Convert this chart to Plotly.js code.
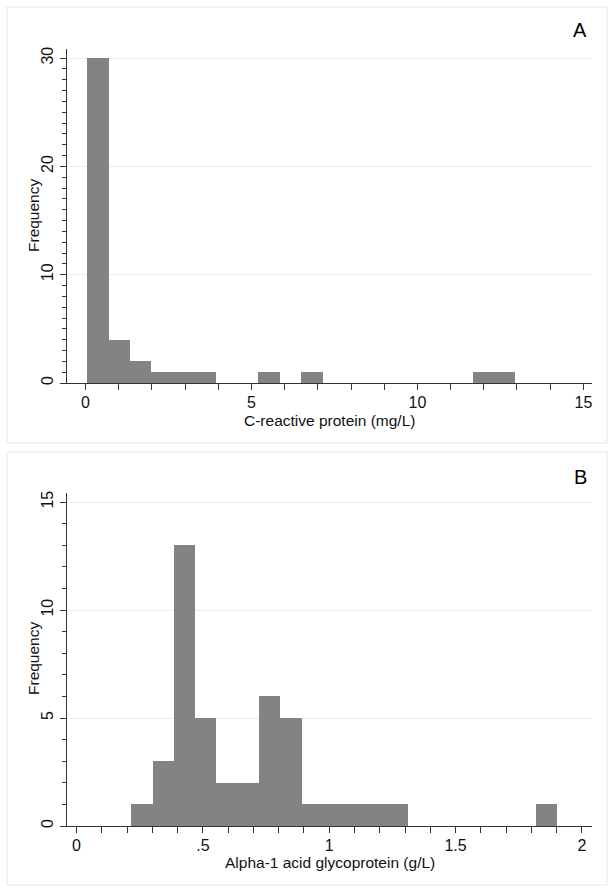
<!DOCTYPE html>
<html>
<head>
<meta charset="utf-8">
<script src="https://cdn.plot.ly/plotly-3.0.1.min.js"></script>
<style>html,body{margin:0;padding:0;background:#fff;}#chart{width:614px;height:893px;}</style>
</head>
<body>
<div id="chart"></div>
<script>
// Panel A: C-reactive protein histogram (20 bins)
const crpBinStart = 0.05;
const crpBinWidth = 0.645;
const crpCounts = [30, 4, 2, 1, 1, 1, 0, 0, 1, 0, 1, 0, 0, 0, 0, 0, 0, 0, 1, 1];
const crpTickVals = [0, 5, 10, 15];
const crpTickText = ["0", "5", "10", "15"];

// Panel B: Alpha-1 acid glycoprotein histogram (20 bins)
const agpBinStart = 0.217;
const agpBinWidth = 0.0842;
const agpCounts = [1, 3, 13, 5, 2, 2, 6, 5, 1, 1, 1, 1, 1, 0, 0, 0, 0, 0, 0, 1];
const agpTickVals = [0, 0.5, 1, 1.5, 2];
const agpTickText = ["0", ".5", "1", "1.5", "2"];

const W = 614, H = 893;
function centers(start, w, counts) { return counts.map((c, i) => start + (i + 0.5) * w); }

const barColor = '#838383';
const traces = [
  {type: 'bar', x: centers(crpBinStart, crpBinWidth, crpCounts), y: crpCounts, width: crpBinWidth,
   marker: {color: barColor, line: {width: 0}}, xaxis: 'x', yaxis: 'y', hoverinfo: 'x+y'},
  {type: 'bar', x: centers(agpBinStart, agpBinWidth, agpCounts), y: agpCounts, width: agpBinWidth,
   marker: {color: barColor, line: {width: 0}}, xaxis: 'x2', yaxis: 'y2', hoverinfo: 'x+y'}
];

const fam = 'Liberation Sans, Arial, sans-serif';
const tickFnt = {family: fam, size: 16, color: '#111'};
const titleFnt = {family: fam, size: 15.5, color: '#111'};
const axLine = '#333';
const xDom = [66.7 / W, 592 / W];
function yd(top, bottom) { return [1 - bottom / H, 1 - top / H]; }

const common = {showline: true, linecolor: axLine, linewidth: 1, ticks: 'outside', tickcolor: axLine,
  ticklen: 6, tickwidth: 1, zeroline: false, tickfont: tickFnt, fixedrange: true};

const layout = {
  width: W, height: H, margin: {l: 0, r: 0, t: 0, b: 0},
  paper_bgcolor: '#fff', plot_bgcolor: '#fff', showlegend: false, bargap: 0,
  font: tickFnt,
  xaxis: Object.assign({}, common, {domain: xDom, anchor: 'y', range: [-0.566, 15.26],
    tickmode: 'array', tickvals: crpTickVals, ticktext: crpTickText, showgrid: false, ticklabelstandoff: -1,
    minor: {dtick: 1, tick0: 0, ticks: 'outside', ticklen: 6, tickcolor: axLine, showgrid: false}}),
  yaxis: Object.assign({}, common, {domain: yd(49, 383), anchor: 'x', range: [0, 30.84],
    dtick: 10, tick0: 0, tickangle: -90, ticklabelstandoff: 0, showgrid: true, gridcolor: '#ececec', gridwidth: 1,
    minor: {dtick: 1, tick0: 0, ticks: 'outside', ticklen: 4, tickcolor: axLine, showgrid: false}}),
  xaxis2: Object.assign({}, common, {domain: xDom, anchor: 'y2', range: [-0.039, 2.04],
    tickmode: 'array', tickvals: agpTickVals, ticktext: agpTickText, showgrid: false, ticklabelstandoff: -1,
    minor: {dtick: 0.1, tick0: 0, ticks: 'outside', ticklen: 6, tickcolor: axLine, showgrid: false}}),
  yaxis2: Object.assign({}, common, {domain: yd(493, 826), anchor: 'x2', range: [0, 15.42],
    dtick: 5, tick0: 0, tickangle: -90, ticklabelstandoff: 0, showgrid: true, gridcolor: '#ececec', gridwidth: 1,
    minor: {dtick: 1, tick0: 0, ticks: 'outside', ticklen: 4, tickcolor: axLine, showgrid: false}}),
  shapes: [
    {type: 'rect', xref: 'paper', yref: 'paper', x0: 7 / W, x1: 607 / W, y0: 1 - 443 / H, y1: 1 - 7 / H,
     line: {color: '#e6e6e6', width: 1}, fillcolor: 'rgba(0,0,0,0)', layer: 'below'},
    {type: 'rect', xref: 'paper', yref: 'paper', x0: 7 / W, x1: 607 / W, y0: 1 - 885 / H, y1: 1 - 452 / H,
     line: {color: '#e6e6e6', width: 1}, fillcolor: 'rgba(0,0,0,0)', layer: 'below'}
  ],
  annotations: [
    {text: 'C-reactive protein (mg/L)', xref: 'paper', yref: 'paper', x: 329.5 / W, y: 1 - 420 / H, showarrow: false,
     xanchor: 'center', yanchor: 'middle', borderpad: 0, font: titleFnt},
    {text: 'Alpha-1 acid glycoprotein (g/L)', xref: 'paper', yref: 'paper', x: 329.5 / W, y: 1 - 862 / H, showarrow: false,
     xanchor: 'center', yanchor: 'middle', borderpad: 0, font: titleFnt},
    {text: 'Frequency', xref: 'paper', yref: 'paper', x: 33 / W, y: 1 - 216 / H, textangle: -90, showarrow: false,
     xanchor: 'center', yanchor: 'middle', borderpad: 0, font: titleFnt},
    {text: 'Frequency', xref: 'paper', yref: 'paper', x: 33 / W, y: 1 - 659 / H, textangle: -90, showarrow: false,
     xanchor: 'center', yanchor: 'middle', borderpad: 0, font: titleFnt},
    {text: 'A', xref: 'paper', yref: 'paper', x: 580 / W, y: 1 - 30 / H, showarrow: false,
     xanchor: 'center', yanchor: 'middle', font: {family: fam, size: 20, color: '#000'}},
    {text: 'B', xref: 'paper', yref: 'paper', x: 580 / W, y: 1 - 477 / H, showarrow: false,
     xanchor: 'center', yanchor: 'middle', font: {family: fam, size: 20, color: '#000'}}
  ]
};

Plotly.newPlot('chart', traces, layout, {displayModeBar: false, staticPlot: true});
</script>
</body>
</html>
